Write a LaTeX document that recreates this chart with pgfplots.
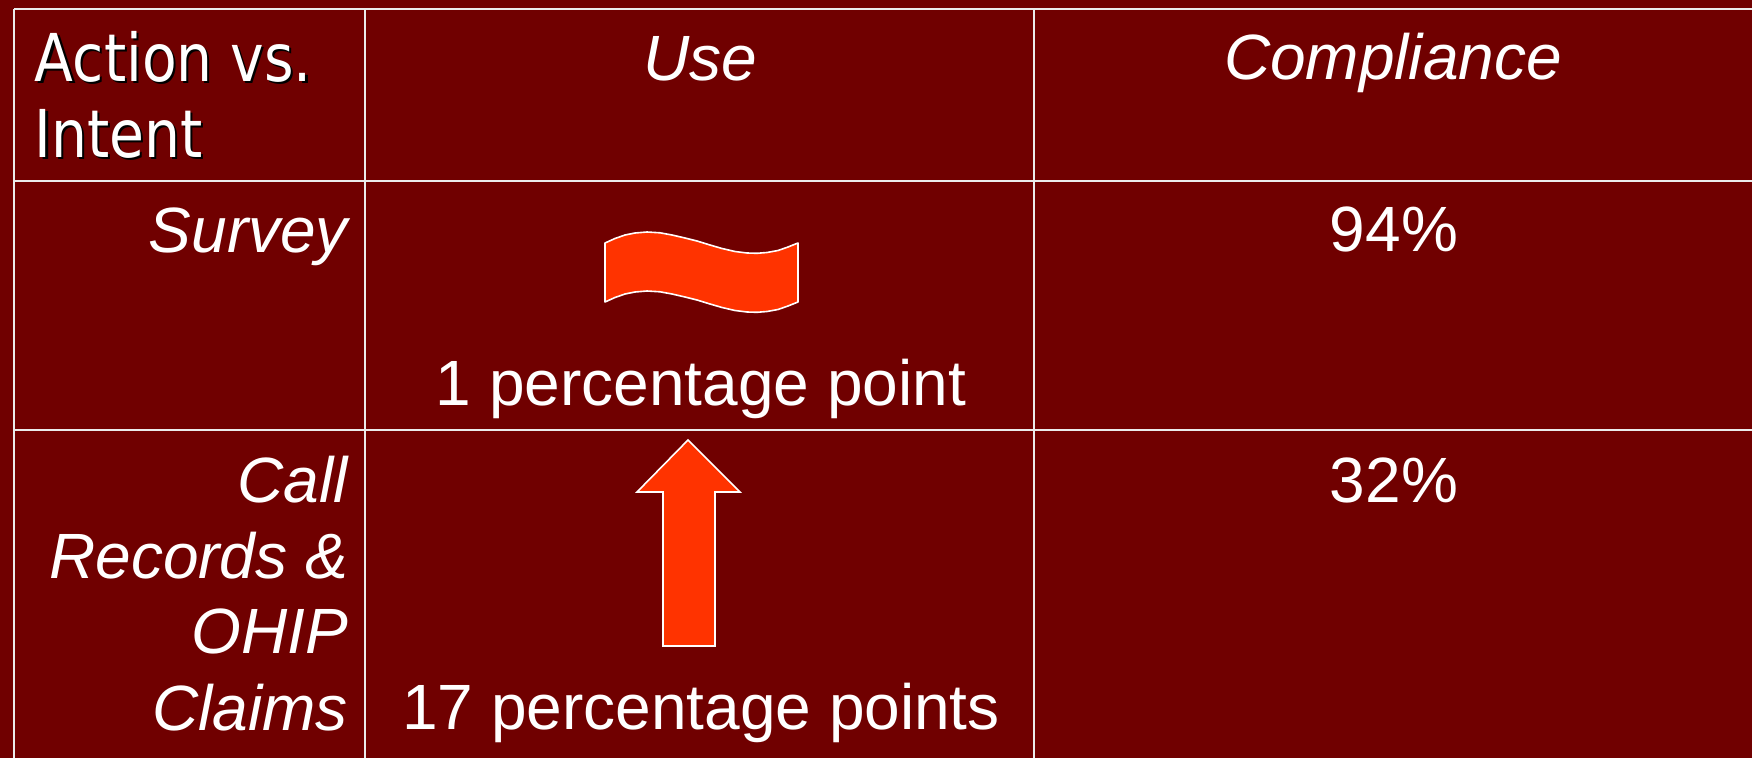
\documentclass[border=0pt]{standalone}
\usepackage{pgfplots}
\pgfplotsset{compat=1.18}
\usepackage{fontspec}
\setmainfont{Liberation Sans}
\newfontfamily\tahoma[FakeStretch=0.86]{DejaVu Sans}
\definecolor{bg}{RGB}{112,0,0}
\definecolor{shape}{RGB}{255,51,0}
\definecolor{gridw}{RGB}{235,235,235}
\tikzset{cell/.style={inner sep=0pt, outer sep=0pt, text=white, font=\fontsize{16}{19}\selectfont}}
\begin{document}
\begin{tikzpicture}
\begin{axis}[
  hide axis, scale only axis,
  width=438pt, height=189.5pt,
  xmin=0, xmax=1752, ymin=0, ymax=758,
  y dir=reverse, clip=true,
]
% background
\addplot[fill=bg, draw=none] coordinates {(0,0) (1752,0) (1752,758) (0,758)} -- cycle;
% table rules
\addplot[gridw, line width=0.5pt] coordinates {(14,9) (1752,9)};
\addplot[gridw, line width=0.5pt] coordinates {(14,181) (1752,181)};
\addplot[gridw, line width=0.5pt] coordinates {(14,430) (1752,430)};
\addplot[gridw, line width=0.5pt] coordinates {(14,9) (14,758)};
\addplot[gridw, line width=0.5pt] coordinates {(365,9) (365,758)};
\addplot[gridw, line width=0.5pt] coordinates {(1034,9) (1034,758)};
% wave (approximately equal)
\addplot[fill=shape, draw=white, line width=0.4pt, line join=round] coordinates {
 (605,243) (615,238.5) (625,235) (635,233) (647,232) (660,232.8) (672,235) (685,238)
 (697,241) (710,245) (722,248.5) (735,251.5) (747,253) (757,253.3) (767,252.5)
 (778,250.5) (788,247) (798,243)
 (798,302) (788,306) (778,309.5) (767,311.5) (757,312.3) (747,312) (735,310.5)
 (722,307.5) (710,304) (697,300) (685,297) (672,294) (660,291.8) (647,291)
 (635,292) (625,294) (615,297.5) (605,302)
} -- cycle;
% up arrow
\addplot[fill=shape, draw=white, line width=0.4pt, line join=miter] coordinates {
 (688,440) (740,492) (715,492) (715,646) (663,646) (663,492) (637,492)
} -- cycle;
% header
\node[cell, anchor=base west, text=black] at (axis cs:37,84) {\tahoma\fontsize{16.5}{19}\selectfont Action vs.};
\node[cell, anchor=base west, text=black] at (axis cs:37,160) {\tahoma\fontsize{16.5}{19}\selectfont Intent};
\node[cell, anchor=base west] at (axis cs:35,82) {\tahoma\fontsize{16.5}{19}\selectfont Action vs.};
\node[cell, anchor=base west] at (axis cs:35,158) {\tahoma\fontsize{16.5}{19}\selectfont Intent};
\node[cell, anchor=base] at (axis cs:700,81) {\itshape Use};
\node[cell, anchor=base] at (axis cs:1393,80) {\itshape Compliance};
% row 1
\node[cell, anchor=base east] at (axis cs:348,253) {\itshape Survey};
\node[cell, anchor=base] at (axis cs:1394,252) {94\%};
\node[cell, anchor=base] at (axis cs:701,405) {1 percentage point};
% row 2
\node[cell, anchor=base east] at (axis cs:348,502) {\itshape Call};
\node[cell, anchor=base east] at (axis cs:348,578) {\itshape Records \&};
\node[cell, anchor=base east] at (axis cs:348,653) {\itshape OHIP};
\node[cell, anchor=base east] at (axis cs:348,730) {\itshape Claims};
\node[cell, anchor=base] at (axis cs:1394,502) {32\%};
\node[cell, anchor=base] at (axis cs:701,729) {17 percentage points};
\end{axis}
\end{tikzpicture}
\end{document}
